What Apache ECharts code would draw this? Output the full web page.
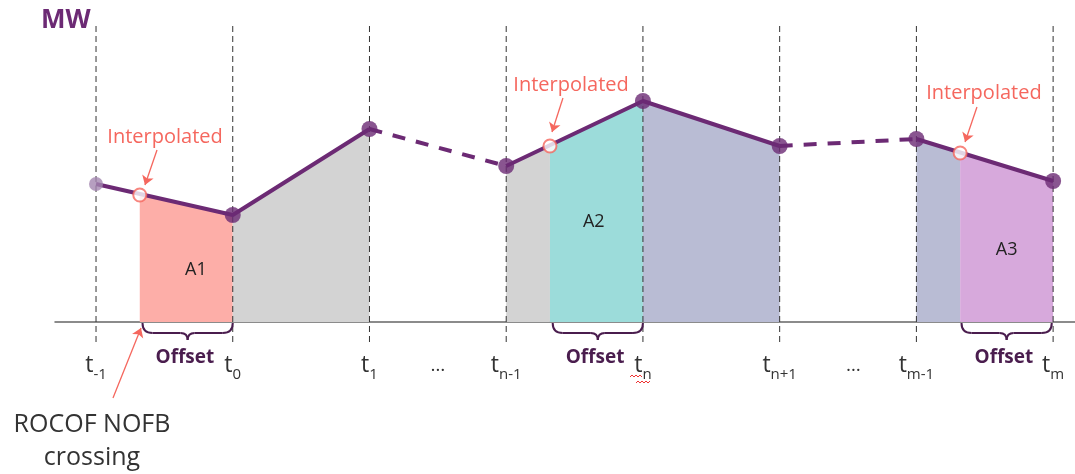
<!DOCTYPE html>
<html>
<head>
<meta charset="utf-8">
<script src="https://cdn.jsdelivr.net/npm/echarts@6/dist/echarts.min.js"></script>
<style>
  html, body { margin: 0; padding: 0; background: #fff; }
  #chart { width: 1075px; height: 474px; }
</style>
</head>
<body>
<div id="chart"></div>
<script>
// ── Data (x in time steps, y in MW) ──
const T_X = [0, 1, 2, 3, 4, 5, 6, 7];
const T_MW = [138, 107, 193, 156, 221, 176, 183, 141];
const T_SUB = ['-1', '0', '1', 'n-1', 'n', 'n+1', 'm-1', 'm'];
const ELLIPSIS_X = [2.5, 5.54];

const INTERP_X = [0.32, 3.32, 6.32];
const INTERP_MW = [127, 176, 169];

// runs of the line, as index pairs into T_X
const SOLID_RUNS = [[0, 2], [3, 5], [6, 7]];
const DASHED_RUNS = [[2, 3], [5, 6]];

// shaded regions under the line
const REGION_SPANS = [[0.32, 1], [1, 2], [3, 3.32], [3.32, 4], [4, 5], [6, 6.32], [6.32, 7]];
const REGION_COLORS = ['#fdaea8', '#d3d3d3', '#d3d3d3', '#9cdcda', '#b9bcd4', '#b9bcd4', '#d7a9dc'];

const AREA_NAMES = ['A1', 'A2', 'A3'];
const AREA_X = [0.73, 3.64, 6.66];
const AREA_MW = [52, 100, 72];

const OFFSET_SPANS = [[0.34, 1], [3.34, 4], [6.33, 6.99]];

const INTERP_LABEL_X = [0.505, 3.474, 6.494];
const INTERP_LABEL_MW = [185, 237, 229];
const INTERP_ARROWS = [
  [[0.446, 172], [0.358, 137]],
  [[3.415, 224], [3.335, 190]],
  [[6.443, 215], [6.356, 180]],
];
const ROCOF_ARROW = [[0.124, -76], [0.329, -6]];

const PURPLE = '#6c2a74';
const SALMON = '#f5675e';
const FONT = '"Open Sans", "Noto Sans", sans-serif';

// all line points, sorted by x
const allPts = T_X.map((x, i) => [x, T_MW[i]])
  .concat(INTERP_X.map((x, i) => [x, INTERP_MW[i]]))
  .sort((a, b) => a[0] - b[0]);

function runData(runs) {
  const out = [];
  runs.forEach((r, k) => {
    if (k > 0) out.push([null, '-']);
    for (let i = r[0]; i <= r[1]; i++) out.push([T_X[i], T_MW[i]]);
  });
  return out;
}

const chart = echarts.init(document.getElementById('chart'));

const regionSeries = REGION_SPANS.map((s, i) => ({
  type: 'line',
  data: allPts.filter(p => p[0] >= s[0] - 1e-9 && p[0] <= s[1] + 1e-9),
  symbol: 'none',
  lineStyle: { width: 0 },
  areaStyle: { color: REGION_COLORS[i], opacity: 1 },
  silent: true,
  z: 1,
}));

// text helper drawn through the axes
function textSeries(items, z) {
  return {
    type: 'custom',
    silent: true,
    z: z || 10,
    data: items.map(it => [it.x, it.y]),
    renderItem: (params, api) => {
      const it = items[params.dataIndex];
      const p = api.coord([api.value(0), api.value(1)]);
      return {
        type: 'text',
        x: p[0], y: p[1],
        style: Object.assign({
          align: 'center', verticalAlign: 'middle',
          fontFamily: FONT,
        }, it.style),
      };
    },
  };
}

const tickItems = T_X.map((x, i) => ({
  x, y: -46,
  style: {
    text: '{t|t}{s|' + T_SUB[i] + '}',
    rich: {
      t: { fontSize: 23, lineHeight: 28, verticalAlign: 'top', fill: '#333', fontFamily: FONT },
      s: { fontSize: 15, lineHeight: 17, padding: [14, 0, 0, 0], verticalAlign: 'bottom', fill: '#333', fontFamily: FONT },
    },
  },
})).concat(ELLIPSIS_X.map(x => ({ x, y: -44, style: { text: '…', fontSize: 19, fill: '#333' } })));

const areaItems = AREA_NAMES.map((n, i) => ({
  x: AREA_X[i], y: AREA_MW[i], style: { text: n, fontSize: 18, fill: '#222' },
}));

const offsetItems = OFFSET_SPANS.map(s => ({
  x: (s[0] + s[1]) / 2 - 0.02, y: -36,
  style: { text: 'Offset', fontSize: 19, fontWeight: 'bold', fill: '#4a1d4e' },
}));

const interpItems = INTERP_LABEL_X.map((x, i) => ({
  x, y: INTERP_LABEL_MW[i], style: { text: 'Interpolated', fontSize: 20, fill: SALMON },
}));

const arrowLines = INTERP_ARROWS.concat([ROCOF_ARROW]).map(a => [
  { coord: a[0] }, { coord: a[1] },
]);

chart.setOption({
  animation: false,
  grid: { left: 55, right: 0, top: 22, bottom: 0 },
  xAxis: {
    type: 'value', min: -0.3, max: 7.16,
    axisLine: { show: true, onZero: true, lineStyle: { color: '#666', width: 1.5 } },
    axisTick: { show: false }, axisLabel: { show: false }, splitLine: { show: false },
  },
  yAxis: {
    type: 'value', min: -152, max: 300,
    axisLine: { show: false }, axisTick: { show: false },
    axisLabel: { show: false }, splitLine: { show: false },
  },
  graphic: [
    { type: 'text', left: 41, top: 8, style: { text: 'MW', fontSize: 26, fontWeight: 'bold', fill: PURPLE, fontFamily: FONT } },
    { type: 'text', x: 92, y: 425, style: { text: 'ROCOF NOFB', fontSize: 25, fill: '#333', align: 'center', verticalAlign: 'middle', fontFamily: FONT } },
    { type: 'text', x: 92, y: 458, style: { text: 'crossing', fontSize: 25, fill: '#333', align: 'center', verticalAlign: 'middle', fontFamily: FONT } },
    { type: 'polyline', shape: { points: [[630, 377], [632, 375], [634, 377], [636, 375], [638, 377], [640, 375], [642, 377]] }, style: { stroke: '#e33', lineWidth: 1, fill: null } },
    { type: 'polyline', shape: { points: [[636, 383], [638, 381], [640, 383], [642, 381], [644, 383], [646, 381], [648, 383], [650, 381]] }, style: { stroke: '#e33', lineWidth: 1, fill: null } },
  ],
  series: regionSeries.concat([
    // vertical dashed guides
    {
      type: 'custom', silent: true, z: 3,
      data: T_X.map(x => [x]),
      renderItem: (params, api) => {
        const a = api.coord([api.value(0), -20]);
        const b = api.coord([api.value(0), 297]);
        return {
          type: 'line',
          shape: { x1: a[0], y1: a[1], x2: b[0], y2: b[1] },
          style: { stroke: '#333', lineWidth: 1, lineDash: [6, 4] },
        };
      },
    },
    // braces under the offsets
    {
      type: 'custom', silent: true, z: 4,
      data: OFFSET_SPANS,
      renderItem: (params, api) => {
        const l = api.coord([api.value(0), 0]);
        const r = api.coord([api.value(1), 0]);
        const x0 = l[0], x1 = r[0], y0 = l[1] + 1, m = (x0 + x1) / 2;
        const h = 10, h2 = 7, t = 7, yh = y0 + h;
        const st = { stroke: '#4a1d4e', lineWidth: 2, fill: null };
        return {
          type: 'group',
          children: [
            { type: 'bezierCurve', shape: { x1: x0, y1: y0, cpx1: x0, cpy1: yh, x2: x0 + h, y2: yh }, style: st },
            { type: 'line', shape: { x1: x0 + h, y1: yh, x2: m - h2, y2: yh }, style: st },
            { type: 'bezierCurve', shape: { x1: m - h2, y1: yh, cpx1: m, cpy1: yh, x2: m, y2: yh + t }, style: st },
            { type: 'bezierCurve', shape: { x1: m, y1: yh + t, cpx1: m, cpy1: yh, x2: m + h2, y2: yh }, style: st },
            { type: 'line', shape: { x1: m + h2, y1: yh, x2: x1 - h, y2: yh }, style: st },
            { type: 'bezierCurve', shape: { x1: x1 - h, y1: yh, cpx1: x1, cpy1: yh, x2: x1, y2: y0 }, style: st },
          ],
        };
      },
    },
    // solid line
    {
      type: 'line', data: runData(SOLID_RUNS), symbol: 'none', connectNulls: false,
      lineStyle: { color: PURPLE, width: 4 }, silent: true, z: 5,
    },
    // dashed line
    {
      type: 'line', data: runData(DASHED_RUNS), symbol: 'none', connectNulls: false,
      lineStyle: { color: PURPLE, width: 4, type: [13, 11] }, silent: true, z: 5,
    },
    // arrows
    {
      type: 'line', data: [], silent: true, z: 6,
      markLine: {
        silent: true, symbol: ['none', 'arrow'], symbolSize: 9, label: { show: false },
        lineStyle: { color: SALMON, width: 1.3, type: 'solid' },
        data: arrowLines,
      },
    },
    // points at sample times
    {
      type: 'scatter', silent: true, z: 7,
      data: T_X.map((x, i) => ({
        value: [x, T_MW[i]],
        symbolSize: i === 0 ? 14 : 16,
        itemStyle: { color: i === 0 ? '#a487b0' : PURPLE },
      })),
    },
    // interpolated points
    {
      type: 'scatter', silent: true, z: 8, symbolSize: 13,
      data: INTERP_X.map((x, i) => [x, INTERP_MW[i]]),
      itemStyle: { color: '#fff', borderColor: SALMON, borderWidth: 2 },
    },
    textSeries(tickItems),
    textSeries(areaItems),
    textSeries(offsetItems),
    textSeries(interpItems),
  ]),
});
</script>
</body>
</html>
